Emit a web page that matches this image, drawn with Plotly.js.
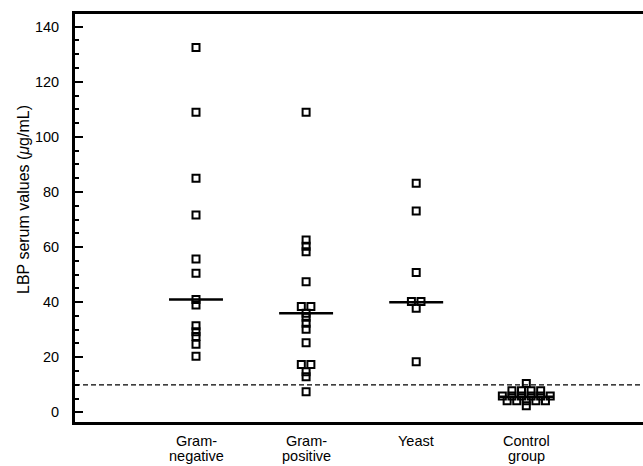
<!DOCTYPE html>
<html>
<head>
<meta charset="utf-8">
<script src="https://cdn.plot.ly/plotly-3.0.1.min.js"></script>
<style>html,body{margin:0;padding:0;background:#fff;}#chart{width:643px;height:466px;}</style>
</head>
<body>
<div id="chart"></div>
<script>
var categories = ["Gram-<br>negative", "Gram-<br>positive", "Yeast", "Control<br>group"];
var gramNegative = [132.4, 108.9, 85.0, 71.6, 55.7, 50.5, 41.0, 39.0, 31.4, 29.3, 27.5, 24.7, 20.4];
var gramPositive = [108.9, 62.6, 60.3, 58.3, 47.4, 38.4, 38.4, 36.0, 34.5, 32.3, 30.2, 25.3, 17.4, 17.4, 14.7, 12.9, 7.5];
var yeast = [83.2, 73.1, 50.8, 40.2, 40.2, 37.8, 18.4];
var control = [10.5, 7.8, 7.8, 7.8, 7.8, 5.9, 5.9, 5.9, 5.9, 5.9, 5.9, 4.2, 4.2, 4.2, 4.2, 4.2, 2.4];
var medians = [41.0, 36.0, 40.0, 5.7];
var cutoff = 10;
var yTitle = 'LBP serum values (<i>\u03bc</i>g/mL)';

var groups = [gramNegative, gramPositive, yeast, control];
var step = 0.087;
var traces = [];
groups.forEach(function(vals, gi){
  var xs = [], ys = [];
  var counts = {};
  vals.forEach(function(v){ counts[v] = (counts[v]||0) + 1; });
  var seen = {};
  vals.forEach(function(v){
    var n = counts[v]; var k = seen[v]||0; seen[v] = k+1;
    xs.push(gi + 1 + (k - (n-1)/2) * step);
    ys.push(v);
  });
  traces.push({type:'scatter', mode:'markers', x: xs, y: ys, cliponaxis:false,
    marker:{symbol:'square-open', size:7, color:'#000', line:{width:2, color:'#000'}},
    hoverinfo:'y', showlegend:false});
});
medians.forEach(function(m, i){
  traces.push({type:'scatter', mode:'lines', x:[i+1-0.245, i+1+0.245], y:[m, m],
    line:{color:'#000', width:2.5}, showlegend:false, hoverinfo:'skip'});
});

var W = 643, H = 466, L = 75, T = 14, B = 44, ph = H - T - B, pw = W - L;
// category labels, one annotation per text line for tight line spacing
var annotations = [];
categories.forEach(function(c, i){
  c.split('<br>').forEach(function(line, j){
    annotations.push({x:i+1, xref:'x', y:1 - (441 + j*15 - T) / ph, yref:'paper', text:line, showarrow:false,
      xanchor:'center', yanchor:'middle', font:{size:14.5}});
  });
});
annotations.push({x:(24 - L) / pw, xref:'paper', y:1 - (200 - T) / ph, yref:'paper', text:yTitle,
  textangle:-90, showarrow:false, xanchor:'center', yanchor:'middle', font:{size:16}});

var layout = {
  width: W, height: H,
  margin: {l:L, r:0, t:T, b:B},
  paper_bgcolor:'#fff', plot_bgcolor:'#fff',
  font: {family:'Liberation Sans, Arial, sans-serif', size:14.5, color:'#000'},
  showlegend:false,
  annotations: annotations,
  xaxis: {range:[-0.099, 5.06], tickvals:[1,2,3,4], showticklabels:false, ticks:'',
    showgrid:false, zeroline:false, showline:true, linecolor:'#000', linewidth:3, mirror:true},
  yaxis: {range:[-3.5, 144.6], tickvals:[0,20,40,60,80,100,120,140], ticks:'inside', ticklen:8, tickwidth:2,
    tickcolor:'#000', showgrid:false, zeroline:false, showline:true, linecolor:'#000', linewidth:3, mirror:false,
    tickfont:{size:14.5}, ticklabelstandoff:10,
    minor:{dtick:5, tick0:0, ticks:'inside', ticklen:4, tickwidth:2, tickcolor:'#000', showgrid:false}},
  shapes: [{type:'line', xref:'paper', x0:0, x1:1, yref:'y', y0:cutoff, y1:cutoff,
    line:{color:'#000', width:1.2, dash:'5px,3px'}}]
};
Plotly.newPlot('chart', traces, layout, {displayModeBar:false, staticPlot:true});
</script>
</body>
</html>
